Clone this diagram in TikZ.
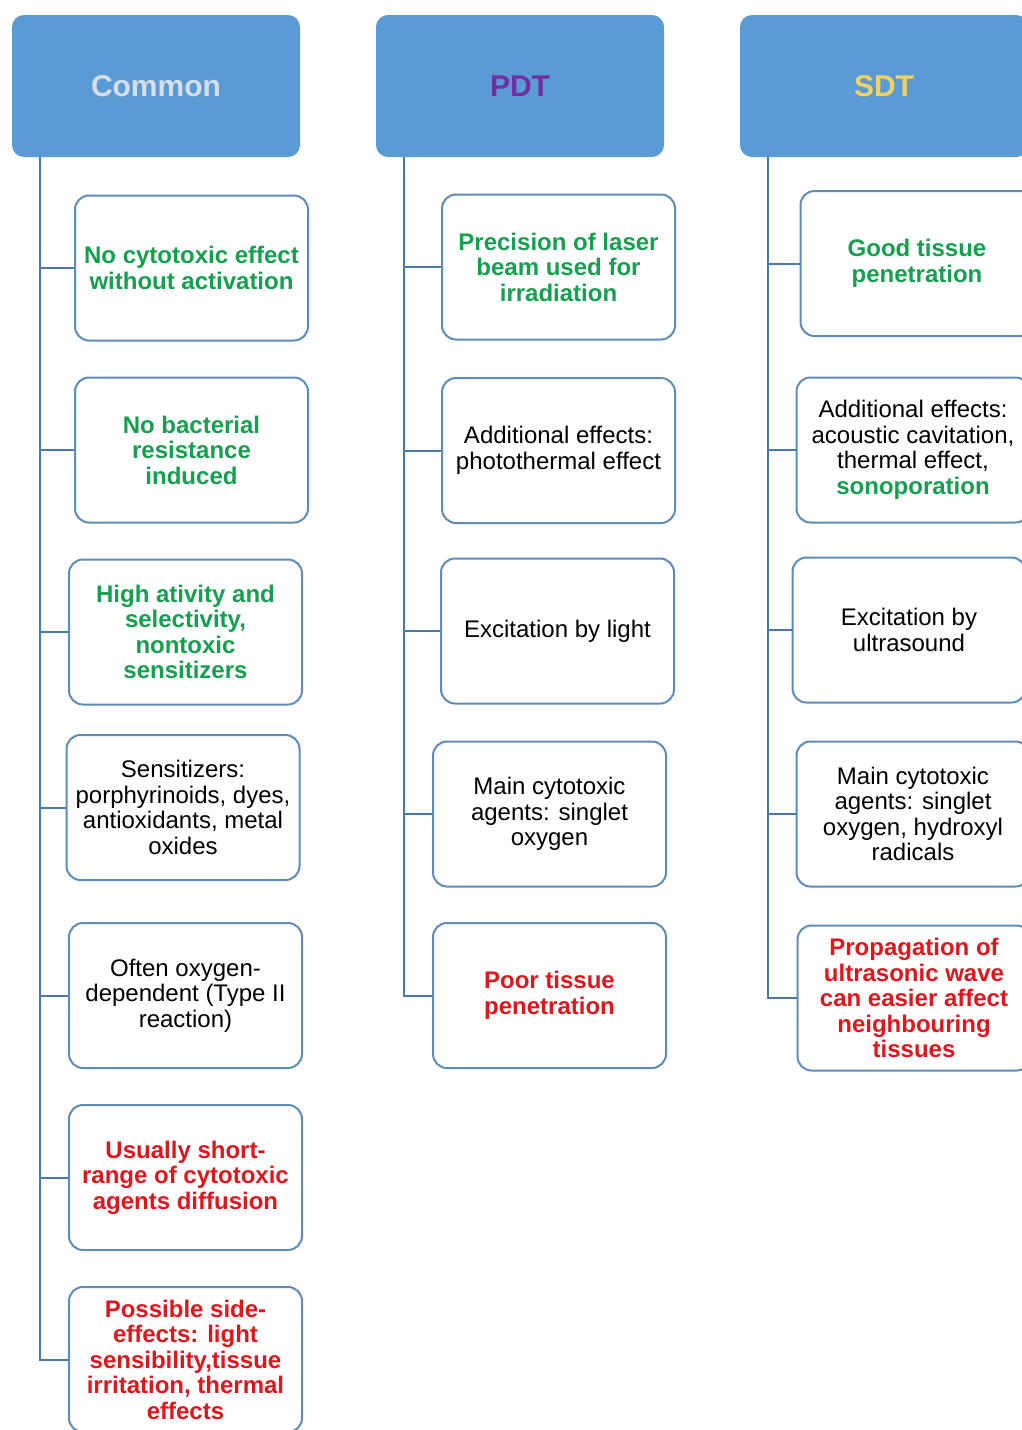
\documentclass[tikz,border=0pt]{standalone}
\usepackage{fontspec}
\setmainfont{Liberation Sans}
\definecolor{headblue}{HTML}{5B9BD5}
\definecolor{edgeblue}{HTML}{5E8CBA}
\definecolor{lineblue}{HTML}{4A78A8}
\definecolor{comgray}{HTML}{D8DEE8}
\definecolor{pdtpurple}{HTML}{7030A0}
\definecolor{sdtyellow}{HTML}{F2D163}
\definecolor{goodgreen}{HTML}{14A04E}
\definecolor{badred}{HTML}{E0161C}

\begin{document}
\begin{tikzpicture}[x=1pt,y=-1pt,
  head/.style={fill=headblue,rounded corners=12pt,minimum width=288pt,minimum height=142pt,
    font=\fontsize{30}{32}\selectfont\bfseries},
  item/.style={draw=edgeblue,fill=white,line width=2pt,rounded corners=14pt,
    minimum width=233pt,minimum height=145pt,align=center,inner sep=0pt,
    font=\fontsize{24}{25.5}\selectfont},
  pro/.style={item,text=goodgreen,font=\fontsize{24}{25.5}\selectfont\bfseries},
  con/.style={item,text=badred,font=\fontsize{24}{25.5}\selectfont\bfseries},
  link/.style={draw=lineblue,line width=2pt}]
\useasboundingbox (0,0) rectangle (1022,1430);
\clip (0,0) rectangle (1022,1430);
\fill[white] (0,0) rectangle (1022,1430);

% column heads
\node[head,text=comgray]   (hCom) at (156,86) {Common};
\node[head,text=pdtpurple] (hPDT) at (520,86) {PDT};
\node[head,text=sdtyellow] (hSDT) at (884,86) {SDT};

% common
\node[pro] (c1) at (191.5,268)  {No cytotoxic effect\\without activation};
\node[pro] (c2) at (191.5,450)  {No bacterial\\resistance\\induced};
\node[pro] (c3) at (185.5,632)  {High ativity and\\selectivity,\\nontoxic\\sensitizers};
\node[item] (c4) at (183,807.5) {Sensitizers:\\porphyrinoids, dyes,\\antioxidants, metal\\oxides};
\node[item] (c5) at (185.5,995.5) {Often oxygen-\\dependent (Type II\\reaction)};
\node[con] (c6) at (185.5,1177.5) {Usually short-\\range of cytotoxic\\agents diffusion};
\node[con] (c7) at (185.5,1359.5) {Possible side-\\effects: light\\sensibility,tissue\\irritation, thermal\\effects};

% PDT
\node[pro] (p1) at (558.5,267)   {Precision of laser\\beam used for\\irradiation};
\node[item] (p2) at (558.5,450.5) {Additional effects:\\photothermal effect};
\node[item] (p3) at (557.5,631)   {Excitation by light};
\node[item] (p4) at (549.5,814)   {Main cytotoxic\\agents: singlet\\oxygen};
\node[con] (p5) at (549.5,995.5) {Poor tissue\\penetration};

% SDT
\node[pro] (s1) at (917,263.5) {Good tissue\\penetration};
\node[item] (s2) at (913,450)  {Additional effects:\\acoustic cavitation,\\thermal effect,\\{\bfseries\color{goodgreen}sonoporation}};
\node[item] (s3) at (909,630)  {Excitation by\\ultrasound};
\node[item] (s4) at (913,814)  {Main cytotoxic\\agents: singlet\\oxygen, hydroxyl\\radicals};
\node[con] (s5) at (914,998)   {Propagation of\\ultrasonic wave\\can easier affect\\neighbouring\\tissues};

\foreach \b in {c1,c2,c3,c4,c5,c6,c7}
  \draw[link] ([xshift=28pt]hCom.south west) |- (\b.west);
\foreach \b in {p1,p2,p3,p4,p5}
  \draw[link] ([xshift=28pt]hPDT.south west) |- (\b.west);
\foreach \b in {s1,s2,s3,s4,s5}
  \draw[link] ([xshift=28pt]hSDT.south west) |- (\b.west);
\end{tikzpicture}
\end{document}
